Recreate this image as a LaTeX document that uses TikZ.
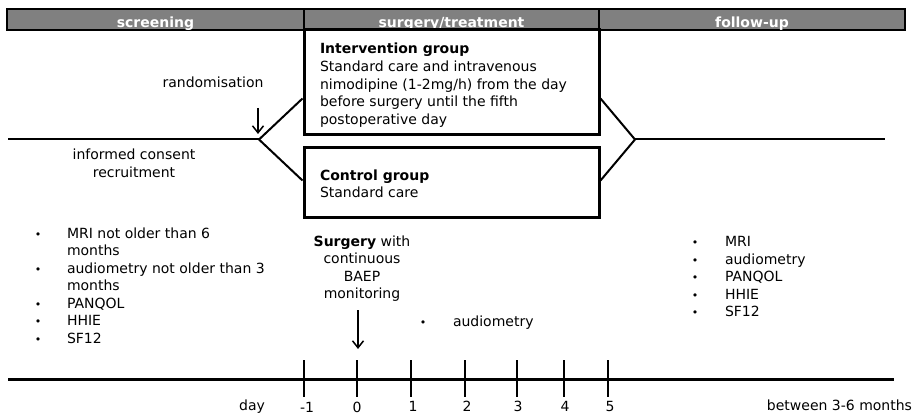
\documentclass[tikz,border=0pt]{standalone}
\usepackage{fontspec}
\setmainfont{DejaVu Sans}
\usetikzlibrary{arrows.meta,calc}
\definecolor{headgray}{RGB}{128,128,128}
\begin{document}
\begin{tikzpicture}[x=1pt,y=-1pt,
  txt/.style={inner sep=0pt, outer sep=0pt, anchor=base west, font=\fontsize{14}{17}\selectfont},
  txtb/.style={txt, font=\bfseries\fontsize{14}{17}\selectfont},
  ctxt/.style={txt, anchor=base},
  bul/.style={inner sep=0pt, outer sep=0pt, anchor=base, font=\fontsize{11}{12}\selectfont},
  hdr/.style={draw=black, line width=2pt, fill=headgray, inner sep=0pt},
  htxt/.style={inner sep=0pt, outer sep=0pt, anchor=base, text=white, font=\bfseries\fontsize{14}{17}\selectfont},
  grp/.style={draw=black, line width=3pt, inner sep=0pt, fill=white},
  conn/.style={line width=2pt},
  arr/.style={line width=1.5pt, -{Straight Barb[length=7pt,width=11pt]}},
  tick/.style={line width=2.5pt},
]
\useasboundingbox[fill=white] (0,0) rectangle (917,414);

% header
\node[hdr, minimum width=297pt, minimum height=21pt] (h1) at (155.5,20) {};
\node[hdr, minimum width=295pt, minimum height=21pt] (h2) at (451.5,20) {};
\node[hdr, minimum width=306pt, minimum height=21pt] (h3) at (752,20) {};
\begin{scope}
\clip (7,10.5) rectangle (905,29.2);
\node[htxt] (h1t) at (155.5,27.5) {screening};
\node[htxt] (h2t) at (451.5,27.5) {surgery/treatment};
\node[htxt] (h3t) at (752,27.5) {follow-up};
\end{scope}

% group boxes
\node[grp, minimum width=295pt, minimum height=105pt] (ig) at (451.5,82.5) {};
\node[grp, minimum width=295pt, minimum height=69pt] (cg) at (451.5,182.5) {};

\node[txtb] (igt) at (320,54) {Intervention group};
\node[txt] (ig1) at (320,71.6) {Standard care and intravenous};
\node[txt] (ig2) at (320,89.1) {nimodipine (1-2mg/h) from the day};
\node[txt] (ig3) at (320,106.6) {before surgery until the fifth};
\node[txt] (ig4) at (320,124.1) {postoperative day};

\node[txtb] (cgt) at (320,180) {Control group};
\node[txt] (cg1) at (320,197.2) {Standard care};

% flow lines
\coordinate (l0) at (8,139.5);
\coordinate (L) at (259,139.5);
\coordinate (R) at (635,139.5);
\coordinate (r0) at (885,139.5);
\draw[conn] (l0) -- (L);
\draw[conn] (R) -- (r0);
\draw[conn] ($(ig.south west)+(0,-38)$) -- (L) -- ($(cg.north west)+(0,34)$);
\draw[conn] ($(ig.south east)+(0,-38)$) -- (R) -- ($(cg.north east)+(0,34)$);

% randomisation
\node[ctxt] (rand) at (213,88) {randomisation};
\coordinate (ra) at (258,108);
\draw[arr] (ra) -- (258,134);

\node[ctxt] (ic1) at (134,160) {informed consent};
\node[ctxt] (ic2) at (134,177) {recruitment};

% screening list
\foreach \y/\t/\b [count=\i] in {238/MRI not older than 6/1, 255.5/months/0, 273/audiometry not older than 3/1, 290.5/months/0, 308/PANQOL/1, 325.5/HHIE/1, 343/SF12/1}{
  \node[txt] (sl\i) at (67,\y) {\t};
  \ifnum\b=1 \node[bul] (sb\i) at (38,\y) {•};\fi
}

% surgery
\node[ctxt] (s1) at (362,246) {\textbf{Surgery} with};
\node[ctxt] (s2) at (362,263.5) {continuous};
\node[ctxt] (s3) at (362,281) {BAEP};
\node[ctxt] (s4) at (362,298.5) {monitoring};
\coordinate (sa) at (358,310);
\draw[arr] (sa) -- (358,349);

\node[bul] (ab) at (423,326) {•};
\node[txt] (at) at (453,326) {audiometry};

% follow-up list
\foreach \y/\t [count=\i] in {246.7/MRI, 264.2/audiometry, 281.7/PANQOL, 299.2/HHIE, 316.7/SF12}{
  \node[txt] (fl\i) at (725,\y) {\t};
  \node[bul] (fb\i) at (695,\y) {•};
}

% timeline
\coordinate (tl0) at (8,379.5);
\coordinate (tl1) at (894,379.5);
\draw[line width=3.5pt] (tl0) -- (tl1);
\foreach \x in {304,357,411,465,517,564,608}{
  \draw[tick] (\x,360) -- (\x,397);
}
\node[ctxt] (day) at (252,410) {day};
\node[ctxt] (dm1) at (307,412) {-1};
\node[ctxt] (d0) at (357,412) {0};
\node[ctxt] (d1) at (413,411) {1};
\node[ctxt] (d2) at (467,411) {2};
\node[ctxt] (d3) at (518,411) {3};
\node[ctxt] (d4) at (565,411) {4};
\node[ctxt] (d5) at (610,411) {5};
\node[ctxt] (btw) at (839.5,410) {between 3-6 months};
\end{tikzpicture}
\end{document}
